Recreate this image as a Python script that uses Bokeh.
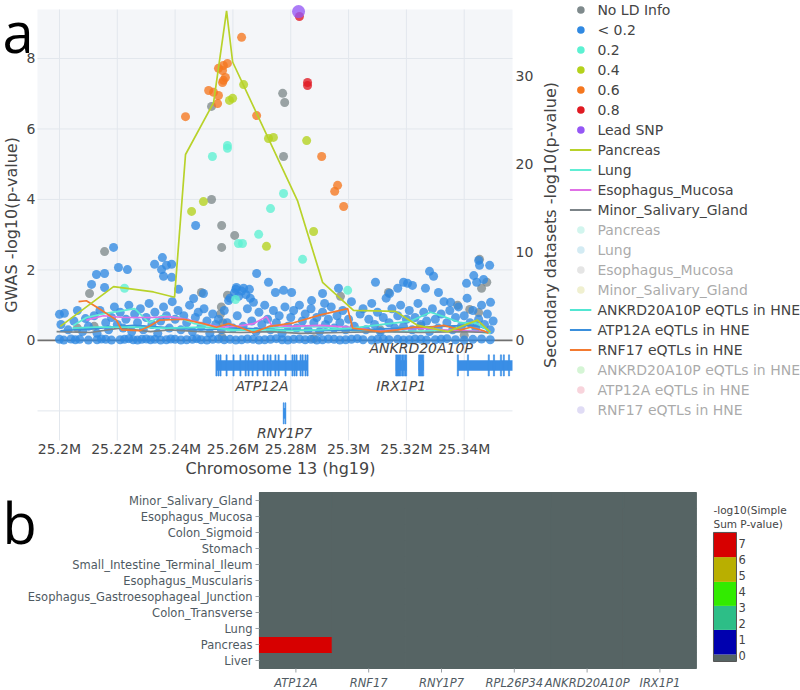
import math
from bokeh.plotting import figure
from bokeh.models import (ColumnDataSource, Range1d, Legend, LegendItem, BoxAnnotation, LinearColorMapper)
from bokeh.layouts import column
from bokeh.transform import transform
from bokeh.core.properties import value
from bokeh.embed import file_html
from bokeh.resources import INLINE

# ------------------------------------------------------------------ data
x_ticks = [25.20, 25.22, 25.24, 25.26, 25.28, 25.30, 25.32, 25.34]
x_tick_labels = ["25.2M", "25.22M", "25.24M", "25.26M", "25.28M", "25.3M", "25.32M", "25.34M"]
gwas_ticks = [0, 2, 4, 6, 8]
sec_ticks = [0, 10, 20, 30]

ld_labels = ["No LD Info", "< 0.2", "0.2", "0.4", "0.6", "0.8", "Lead SNP"]

nold_pos = [25.2526, 25.2772, 25.2779, 25.2775, 25.2526, 25.2561, 25.2606, 25.2561, 25.2156, 25.2104,
            25.2491, 25.2581, 25.2972, 25.3138, 25.3453, 25.3460, 25.3478, 25.3377, 25.3419, 25.3450,
            25.2560, 25.2557, 25.2565, 25.2562, 25.2062, 25.2120, 25.2880, 25.3110, 25.3250, 25.3400]
nold_val = [6.64, 7.01, 6.75, 5.22, 4.00, 3.26, 2.98, 2.64, 2.52, 1.33,
            1.36, 1.28, 1.25, 1.36, 2.30, 1.48, 1.65, 1.00, 0.88, 0.79,
            0.95, 0.75, 0.50, 0.10, 0.35, 0.40, 0.05, 0.30, 0.40, 0.15]

blue_hi_pos = [25.2471, 25.2187, 25.2356, 25.2329, 25.2370, 25.2388, 25.2353, 25.2360, 25.2388, 25.2204,
               25.2235, 25.2128, 25.2156, 25.2111, 25.2156, 25.2412, 25.2498, 25.2464, 25.2612, 25.2637,
               25.2657, 25.2682, 25.2723, 25.2585, 25.2671, 25.2747, 25.2775, 25.2803, 25.2872, 25.2910,
               25.2917, 25.2965, 25.3093, 25.3142, 25.3170, 25.3190, 25.3204, 25.3221, 25.3266, 25.3280,
               25.3294, 25.3311, 25.3353, 25.3408, 25.3433, 25.3443, 25.3450, 25.3453, 25.3488, 25.3467,
               25.3491, 25.2000, 25.2017, 25.2062, 25.2605, 25.2620, 25.2630, 25.2645, 25.2660, 25.2610]
blue_hi_val = [3.26, 2.64, 2.35, 2.16, 2.13, 2.16, 2.01, 1.82, 1.79, 2.07,
               2.01, 1.87, 1.90, 1.59, 1.50, 1.45, 1.33, 1.19, 1.50, 1.48,
               1.45, 1.90, 1.65, 1.13, 1.08, 1.36, 1.42, 1.36, 1.13, 1.33,
               1.05, 1.48, 1.65, 1.33, 1.48, 1.65, 1.62, 1.56, 1.48, 1.96,
               1.82, 1.36, 1.08, 1.62, 1.84, 1.65, 2.27, 2.13, 2.13, 1.73,
               1.08, 0.74, 0.77, 0.85, 1.35, 1.25, 1.40, 1.30, 1.20, 1.45]

blue_lo_pos = [25.2005, 25.2030, 25.2050, 25.2080, 25.2090, 25.2100, 25.2120, 25.2130, 25.2140, 25.2160,
               25.2170, 25.2180, 25.2190, 25.2200, 25.2210, 25.2220, 25.2230, 25.2240, 25.2250, 25.2260,
               25.2270, 25.2280, 25.2290, 25.2300, 25.2310, 25.2320, 25.2330, 25.2340, 25.2350, 25.2360,
               25.2370, 25.2380, 25.2390, 25.2400, 25.2410, 25.2420, 25.2430, 25.2440, 25.2450, 25.2460,
               25.2470, 25.2480, 25.2490, 25.2500, 25.2510, 25.2520, 25.2530, 25.2540, 25.2550, 25.2560,
               25.2570, 25.2580, 25.2590, 25.2600, 25.2615, 25.2635, 25.2650, 25.2665, 25.2680, 25.2690,
               25.2700, 25.2710, 25.2720, 25.2730, 25.2740, 25.2750, 25.2760, 25.2770, 25.2780, 25.2790,
               25.2800, 25.2810, 25.2820, 25.2830, 25.2840, 25.2850, 25.2860, 25.2870, 25.2880, 25.2890,
               25.2900, 25.2910, 25.2920, 25.2930, 25.2940, 25.2950, 25.2960, 25.2970, 25.2980, 25.2990,
               25.3000, 25.3010, 25.3020, 25.3040, 25.3050, 25.3060, 25.3070, 25.3080, 25.3090, 25.3100,
               25.3110, 25.3120, 25.3130, 25.3140, 25.3150, 25.3160, 25.3170, 25.3180, 25.3190, 25.3200,
               25.3210, 25.3220, 25.3230, 25.3240, 25.3250, 25.3260, 25.3270, 25.3280, 25.3290, 25.3300,
               25.3310, 25.3320, 25.3330, 25.3340, 25.3350, 25.3360, 25.3370, 25.3380, 25.3390, 25.3400,
               25.3410, 25.3420, 25.3430, 25.3440, 25.3450, 25.3460, 25.3470, 25.3480, 25.3490, 25.3500]
blue_lo_val = [0.45, 0.30, 0.55, 0.25, 0.62, 0.40, 0.70, 0.20, 0.85, 0.50,
               0.30, 0.65, 0.95, 0.45, 0.80, 0.35, 0.60, 1.00, 0.25, 0.75,
               0.50, 0.90, 0.30, 0.65, 1.05, 0.45, 0.80, 0.20, 0.55, 0.95,
               0.70, 0.35, 1.10, 0.60, 0.85, 0.30, 0.70, 0.50, 1.00, 0.25,
               0.65, 0.80, 0.40, 0.90, 0.55, 0.20, 0.75, 0.45, 0.60, 0.30,
               0.85, 0.50, 1.20, 0.35, 0.70, 0.40, 0.90, 0.55, 0.25, 0.80,
               0.45, 1.00, 0.60, 0.30, 0.85, 0.50, 0.70, 0.20, 0.95, 0.40,
               0.65, 0.85, 0.35, 1.00, 0.55, 0.75, 0.30, 0.90, 0.50, 0.65,
               0.25, 0.80, 0.45, 0.60, 0.95, 0.35, 0.70, 0.50, 0.85, 0.30,
               0.60, 1.10, 0.40, 0.75, 0.90, 0.30, 0.60, 1.05, 0.45, 0.80,
               0.25, 0.65, 1.20, 0.50, 0.90, 0.35, 0.70, 1.00, 0.40, 0.60,
               0.85, 0.30, 0.65, 1.05, 0.45, 0.80, 0.55, 0.25, 0.90, 0.60,
               0.35, 0.75, 1.10, 0.50, 0.85, 0.30, 0.65, 0.95, 0.40, 0.70,
               1.20, 0.50, 0.85, 0.35, 0.60, 1.00, 0.45, 0.75, 0.30, 0.55]

blue_zero_pos = [25.2000, 25.2015, 25.2040, 25.2055, 25.2070, 25.2100, 25.2130, 25.2145, 25.2160, 25.2180,
                 25.2210, 25.2225, 25.2240, 25.2255, 25.2270, 25.2285, 25.2300, 25.2315, 25.2330, 25.2350,
                 25.2370, 25.2385, 25.2400, 25.2420, 25.2440, 25.2460, 25.2475, 25.2490, 25.2510, 25.2530,
                 25.2550, 25.2570, 25.2590, 25.2610, 25.2630, 25.2650, 25.2670, 25.2690, 25.2710, 25.2730,
                 25.2750, 25.2770, 25.2790, 25.2810, 25.2830, 25.2850, 25.2870, 25.2890, 25.2910, 25.2930,
                 25.2950, 25.2970, 25.2990, 25.3010, 25.3030, 25.3050, 25.3080, 25.3100, 25.3120, 25.3140,
                 25.3170, 25.3190, 25.3210, 25.3230, 25.3250, 25.3270, 25.3300, 25.3320, 25.3340, 25.3370,
                 25.3400, 25.3430, 25.3460, 25.3490]
blue_zero_val = [0.03, 0.01, 0.04, 0.02, 0.03, 0.01, 0.02, 0.04, 0.03, 0.01,
                 0.02, 0.03, 0.05, 0.02, 0.01, 0.03, 0.04, 0.02, 0.03, 0.01,
                 0.02, 0.04, 0.03, 0.01, 0.02, 0.03, 0.05, 0.02, 0.01, 0.03,
                 0.04, 0.02, 0.03, 0.01, 0.02, 0.04, 0.03, 0.01, 0.02, 0.03,
                 0.05, 0.02, 0.01, 0.03, 0.04, 0.02, 0.03, 0.01, 0.02, 0.04,
                 0.03, 0.01, 0.02, 0.03, 0.05, 0.02, 0.01, 0.03, 0.04, 0.02,
                 0.03, 0.01, 0.02, 0.04, 0.03, 0.01, 0.02, 0.03, 0.05, 0.02,
                 0.01, 0.03, 0.04, 0.02]

ld02_pos = [25.2581, 25.2581, 25.2529, 25.2689, 25.2775, 25.2730, 25.2619, 25.2633, 25.2841, 25.2225,
            25.2609, 25.2997]
ld02_val = [5.53, 5.45, 5.22, 3.01, 4.17, 3.74, 2.75, 2.75, 2.30, 1.48, 1.16, 1.42]

ld04_pos = [25.2588, 25.2599, 25.2637, 25.2723, 25.2740, 25.2855, 25.2457, 25.2498, 25.2879, 25.2716]
ld04_val = [6.81, 6.87, 7.26, 5.73, 5.76, 5.67, 3.66, 3.94, 3.09, 2.67]

ld06_pos = [25.2630, 25.2550, 25.2567, 25.2581, 25.2564, 25.2567, 25.2574, 25.2564, 25.2516, 25.2533,
            25.2550, 25.2547, 25.2436, 25.2682, 25.2907, 25.2962, 25.2952, 25.2983]
ld06_val = [8.60, 7.72, 7.80, 7.86, 7.66, 7.38, 7.46, 7.32, 7.09, 7.04,
            6.95, 6.72, 6.35, 6.38, 5.22, 4.40, 4.23, 3.80]

ld08_pos = [25.2830, 25.2858, 25.2858]
ld08_val = [9.19, 7.32, 7.23]

lead_pos = [25.2827]
lead_val = [9.33]

pancreas_pos = [25.2003, 25.2187, 25.2325, 25.2398, 25.2436, 25.2533, 25.2578, 25.2599, 25.2824, 25.2910,
                25.3017, 25.3163, 25.3239, 25.3343, 25.3446, 25.3491]
pancreas_val = [1.6, 6.1, 5.5, 4.9, 21.1, 27.0, 37.4, 31.6, 15.8, 6.6, 3.4, 3.3, 1.7, 1.0, 2.3, 0.9]

lung_pos = [25.2048, 25.2093, 25.2163, 25.2204, 25.2260, 25.2311, 25.2353, 25.2412, 25.2467, 25.2533,
            25.2588, 25.2661, 25.2730, 25.2834, 25.2938, 25.3014, 25.3180, 25.3318, 25.3422, 25.3491]
lung_val = [1.7, 2.6, 3.1, 3.3, 3.6, 2.0, 2.8, 2.6, 1.9, 1.6, 1.1, 1.2, 1.4, 1.6, 1.5, 1.1, 1.0, 1.1, 1.1, 0.8]

esoph_pos = [25.2093, 25.2152, 25.2221, 25.2266, 25.2325, 25.2381, 25.2439, 25.2498, 25.2554, 25.2612,
             25.2671, 25.2716, 25.2734, 25.2799, 25.2903, 25.2997, 25.3111, 25.3249, 25.3377, 25.3467]
esoph_val = [2.3, 2.8, 2.6, 2.6, 2.6, 2.7, 2.4, 1.9, 1.5, 1.6, 1.9, 2.7, 1.7, 1.6, 1.7, 1.5, 1.1, 1.4, 1.1, 1.0]

msg_pos = [25.1990, 25.2107, 25.2208, 25.2315, 25.2381, 25.2488, 25.2626, 25.2730, 25.2834, 25.2972,
           25.3111, 25.3249, 25.3388, 25.3481]
msg_val = [1.0, 0.9, 1.4, 1.0, 1.2, 1.0, 0.9, 1.0, 0.8, 0.9, 1.0, 0.9, 1.0, 0.9]

ankrd_pos = [25.2045, 25.2125, 25.2246, 25.2370, 25.2498, 25.2612, 25.2730, 25.2799, 25.2903, 25.3014,
             25.3111, 25.3215, 25.3284, 25.3329, 25.3388, 25.3439, 25.3484]
ankrd_val = [1.4, 1.5, 1.5, 1.4, 1.5, 1.2, 1.2, 1.1, 1.2, 1.4, 1.8, 2.2, 3.2, 2.7, 2.0, 2.0, 1.1]

atp_pos = [25.2003, 25.2142, 25.2256, 25.2349, 25.2488, 25.2626, 25.2765, 25.2903, 25.3042, 25.3180,
           25.3318, 25.3422, 25.3467]
atp_val = [1.1, 1.4, 1.7, 1.5, 1.2, 1.4, 1.2, 1.1, 1.2, 1.4, 1.6, 1.7, 1.5]

rnf_pos = [25.2066, 25.2093, 25.2138, 25.2197, 25.2215, 25.2277, 25.2311, 25.2346, 25.2429, 25.2498,
           25.2543, 25.2585, 25.2623, 25.2671, 25.2727, 25.2810, 25.2903, 25.2997, 25.3014, 25.3111,
           25.3170, 25.3225, 25.3284, 25.3329, 25.3388, 25.3422, 25.3467, 25.3484]
rnf_val = [4.4, 4.5, 3.6, 2.3, 1.2, 1.1, 1.6, 2.3, 2.4, 1.9, 1.5, 1.9, 1.5, 0.9, 1.6, 2.0, 2.9, 3.6,
           1.4, 1.0, 1.2, 1.5, 1.5, 1.7, 1.2, 1.5, 1.1, 0.8]

sec_names = ["Pancreas", "Lung", "Esophagus_Mucosa", "Minor_Salivary_Gland"]
eqtl_names = ["ANKRD20A10P eQTLs in HNE", "ATP12A eQTLs in HNE", "RNF17 eQTLs in HNE"]

gene_names = ["ATP12A", "RNY1P7", "IRX1P1", "ANKRD20A10P", "RNF17"]
gene_start = [25.2543, 25.2774, 25.3163, 25.3242, 25.3377]
gene_end = [25.2858, 25.2783, 25.3201, 25.3260, 25.4541]
gene_row = [0, 1, 0, 0, 0]
gene_label_above = [False, False, False, True, False]
exon_gene = ([0] * 23) + [1, 1] + [2, 2, 2] + [3] + [4] * 8
exon_start = [25.2541, 25.2548, 25.2555, 25.2576, 25.2600, 25.2624, 25.2642, 25.2652, 25.2666, 25.2683,
              25.2704, 25.2718, 25.2728, 25.2745, 25.2756, 25.2780, 25.2804, 25.2811, 25.2818, 25.2832,
              25.2839, 25.2849, 25.2856,
              25.2774, 25.2780,
              25.3163, 25.3183, 25.3193,
              25.3242,
              25.3376, 25.3411, 25.3483, 25.3501, 25.3525, 25.3535, 25.3553, 25.3574]
exon_end = [25.2545, 25.2552, 25.2559, 25.2580, 25.2604, 25.2628, 25.2646, 25.2656, 25.2670, 25.2687,
            25.2708, 25.2722, 25.2732, 25.2749, 25.2760, 25.2784, 25.2808, 25.2815, 25.2822, 25.2836,
            25.2843, 25.2853, 25.2860,
            25.2777, 25.2783,
            25.3181, 25.3191, 25.3201,
            25.3260,
            25.3380, 25.3415, 25.3487, 25.3505, 25.3529, 25.3539, 25.3557, 25.3578]

tissues = ["Liver", "Pancreas", "Lung", "Colon_Transverse", "Esophagus_Gastroesophageal_Junction",
           "Esophagus_Muscularis", "Small_Intestine_Terminal_Ileum", "Stomach", "Colon_Sigmoid",
           "Esophagus_Mucosa", "Minor_Salivary_Gland"]
hm_genes = ["ATP12A", "RNF17", "RNY1P7", "RPL26P34", "ANKRD20A10P", "IRX1P1"]
simple_sum = [
    [0, 0, 0, 0, 0, 0],
    [7.6, 0, 0, 0, 0, 0],
    [0, 0, 0, 0, 0, 0],
    [0, 0, 0, 0, 0, 0],
    [0, 0, 0, 0, 0, 0],
    [0, 0, 0, 0, 0, 0],
    [0, 0, 0, 0, 0, 0],
    [0, 0, 0, 0, 0, 0],
    [0, 0, 0, 0, 0, 0],
    [0, 0, 0, 0, 0, 0],
    [0, 0, 0, 0, 0, 0],
]
cb_edges = [-0.375, 0.0625, 1.6, 3.1, 4.6, 6.15, 7.69]
cb_colors = ["#566464", "#0000af", "#2dbe87", "#32eb00", "#b9af00", "#d70000"]
cb_ticks = [0, 1, 2, 3, 4, 5, 6, 7]

# ------------------------------------------------------------------ style / layout constants
FONT = "DejaVu Sans"
TXT = "#444444"
PLOT_BG = "#f4f6f9"
GRID = "#e2e7ed"
ld_colors = ["#7f8a8c", "#3089e2", "#5cf1d2", "#b4d21c", "#f5771f", "#e01a22", "#9557f5"]
sec_colors = ["#b8d22a", "#60eed4", "#e070e6", "#7c8488"]
sec_faded = ["#9be9d9", "#9dd2e4", "#c5c5c5", "#dddd97"]
eqtl_colors = ["#52e6d2", "#3a8fdc", "#f37a30"]
eqtl_faded = ["#a2e9a2", "#efa1b1", "#bab1e9"]
GENE_COLOR = "#3a8ee6"
NAN = float("nan")

X_START, X_END = 25.1924, 25.3567
Y_BOTTOM, Y_TOP = -2.84, 9.39
SEC_RATIO = 4.0
ROW0, ROW_STEP = -0.71, 1.36

FIG_W, FIG_H = 800, 486
PLOT_L, PLOT_T, PLOT_W, PLOT_H = 37, 9, 475, 431     # plot area inside the canvas (px)
PX = (X_END - X_START) / PLOT_W                      # Mb per pixel
UPP = (Y_TOP - Y_BOTTOM) / PLOT_H                    # GWAS units per pixel
xr0 = X_START - PLOT_L * PX
xr1 = X_START + (FIG_W - PLOT_L) * PX
yr0 = Y_BOTTOM - (FIG_H - PLOT_T - PLOT_H) * UPP
yr1 = Y_TOP + PLOT_T * UPP

# ------------------------------------------------------------------ panel a
p = figure(width=FIG_W, height=FIG_H, x_range=Range1d(xr0, xr1), y_range=Range1d(yr0, yr1),
           x_axis_type=None, y_axis_type=None,
           output_backend="svg", toolbar_location=None,
           min_border_left=0, min_border_right=0, min_border_top=0, min_border_bottom=0,
           outline_line_color=None, background_fill_color="white", border_fill_color="white")
p.extra_y_ranges = {"sec": Range1d(yr0 * SEC_RATIO, yr1 * SEC_RATIO)}

p.add_layout(BoxAnnotation(left=X_START, right=X_END, bottom=0, top=Y_TOP, fill_color=PLOT_BG,
                           fill_alpha=1, line_color=None, level="image"))
p.segment(x0=x_ticks, y0=Y_BOTTOM, x1=x_ticks, y1=Y_TOP, line_color=GRID, line_width=1, level="underlay")
hgrid = [-2, 2, 4, 6, 8]
p.segment(x0=X_START, y0=hgrid, x1=X_END, y1=hgrid, line_color=GRID, line_width=1, level="underlay")
p.segment(x0=[X_START], y0=[0], x1=[X_END], y1=[0], line_color="#707070", line_width=1.6, level="underlay")

# axes text
p.text(x=X_START, y=gwas_ticks, text=[str(t) for t in gwas_ticks], x_offset=-2,
       text_font=value(FONT), text_font_size="14px", text_color=TXT, text_align="right",
       text_baseline="middle")
p.text(x=X_END, y=sec_ticks, text=[str(t) for t in sec_ticks], x_offset=3, y_range_name="sec",
       text_font=value(FONT), text_font_size="14px", text_color=TXT, text_align="left",
       text_baseline="middle")
p.text(x=x_ticks, y=Y_BOTTOM, text=x_tick_labels, y_offset=8,
       text_font=value(FONT), text_font_size="14px", text_color=TXT, text_align="center",
       text_baseline="middle")
p.text(x=[X_START + 243 * PX], y=[Y_BOTTOM], text=["Chromosome 13 (hg19)"], y_offset=28,
       text_font=value(FONT), text_font_size="16px", text_color=TXT, text_align="center",
       text_baseline="middle")
p.text(x=[X_START - 26 * PX], y=[(Y_TOP + Y_BOTTOM) / 2], text=["GWAS -log10(p-value)"], angle=math.pi / 2,
       text_font=value(FONT), text_font_size="16px", text_color=TXT, text_align="center",
       text_baseline="middle")
p.text(x=[X_END + 38 * PX], y=[(Y_TOP + Y_BOTTOM) / 2], text=["Secondary datasets -log10(p-value)"],
       angle=math.pi / 2, text_font=value(FONT), text_font_size="16px", text_color=TXT,
       text_align="center", text_baseline="middle")
p.text(x=[xr0], y=[Y_TOP - 21 * UPP], text=["a"], x_offset=2, text_font=value("Open Sans"),
       text_font_size="56px", text_color="black", text_align="left", text_baseline="middle")

PT = 9
PA = 0.78
scatter_sets = [
    (nold_pos, nold_val, ld_colors[0], PT),
    (blue_lo_pos, blue_lo_val, ld_colors[1], PT),
    (blue_zero_pos, blue_zero_val, ld_colors[1], PT),
    (blue_hi_pos, blue_hi_val, ld_colors[1], PT),
    (ld02_pos, ld02_val, ld_colors[2], PT),
    (ld04_pos, ld04_val, ld_colors[3], PT),
    (ld06_pos, ld06_val, ld_colors[4], PT),
    (ld08_pos, ld08_val, ld_colors[5], PT),
    (lead_pos, lead_val, ld_colors[6], 13),
]
for xs, ys, c, s in scatter_sets:
    p.scatter(x=xs, y=ys, size=s, fill_color=c, fill_alpha=PA, line_color=None)

line_sets = [
    (lung_pos, lung_val, sec_colors[1]),
    (esoph_pos, esoph_val, sec_colors[2]),
    (msg_pos, msg_val, sec_colors[3]),
    (atp_pos, atp_val, eqtl_colors[1]),
    (ankrd_pos, ankrd_val, eqtl_colors[0]),
    (rnf_pos, rnf_val, eqtl_colors[2]),
    (pancreas_pos, pancreas_val, sec_colors[0]),
]
for xs, ys, c in line_sets:
    p.line(x=xs, y=ys, line_color=c, line_width=1.7, y_range_name="sec")

# gene track (clipped to the plotted region)
gy = [ROW0 - ROW_STEP * r for r in gene_row]
gsrc = ColumnDataSource(dict(left=gene_start, right=[min(e, X_END) for e in gene_end],
                             bottom=[y - 0.15 for y in gy], top=[y + 0.15 for y in gy]))
p.quad(left="left", right="right", bottom="bottom", top="top", source=gsrc,
       fill_color=GENE_COLOR, line_color=None)
ex_keep = [k for k in range(len(exon_start)) if exon_start[k] < X_END]
ey = [gy[exon_gene[k]] for k in ex_keep]
esrc = ColumnDataSource(dict(left=[exon_start[k] for k in ex_keep],
                             right=[min(exon_end[k], X_END) for k in ex_keep],
                             bottom=[y - 0.30 for y in ey], top=[y + 0.30 for y in ey]))
p.quad(left="left", right="right", bottom="bottom", top="top", source=esrc,
       fill_color=GENE_COLOR, line_color=GENE_COLOR, line_width=0.6)
lab_x, lab_y, lab_t = [], [], []
for name, s, e, y, above in zip(gene_names, gene_start, gene_end, gy, gene_label_above):
    mid = (s + e) / 2
    if X_START <= mid <= X_END:
        lab_x.append(mid)
        lab_y.append(y + 0.49 if above else y - 0.57)
        lab_t.append(name)
p.text(x=lab_x, y=lab_y, text=lab_t, text_font=value(FONT), text_font_style="italic",
       text_font_size="14px", text_color=TXT, text_align="center", text_baseline="middle")

# legend (proxy renderers with a single undrawn point)
items = []
for lab, c in zip(ld_labels, ld_colors):
    r = p.scatter(x=[NAN], y=[NAN], size=12 if lab == "Lead SNP" else 8, fill_color=c, line_color=None)
    items.append(LegendItem(label=lab, renderers=[r]))
for lab, c in zip(sec_names, sec_colors):
    r = p.line(x=[NAN, NAN], y=[NAN, NAN], line_color=c, line_width=2)
    items.append(LegendItem(label=lab, renderers=[r]))
for lab, c in zip(sec_names, sec_faded):
    r = p.scatter(x=[NAN], y=[NAN], size=8, fill_color=c, line_color=None, visible=False)
    items.append(LegendItem(label=lab, renderers=[r]))
for lab, c in zip(eqtl_names, eqtl_colors):
    r = p.line(x=[NAN, NAN], y=[NAN, NAN], line_color=c, line_width=2)
    items.append(LegendItem(label=lab, renderers=[r]))
for lab, c in zip(eqtl_names, eqtl_faded):
    r = p.scatter(x=[NAN], y=[NAN], size=8, fill_color=c, line_color=None, visible=False)
    items.append(LegendItem(label=lab, renderers=[r]))

legend = Legend(items=items, location="top_right", orientation="vertical",
                border_line_color=None, background_fill_alpha=0,
                label_text_font=FONT, label_text_font_size="14px", label_text_color=TXT,
                glyph_width=22, glyph_height=19, label_height=19, label_standoff=6,
                spacing=1, padding=0, margin=0, click_policy="hide",
                inactive_fill_color="white", inactive_fill_alpha=0.55)
p.add_layout(legend)

# ------------------------------------------------------------------ panel b
HM_W, HM_H = 800, 203
CELL_W, CELL_H = 72.8, 16.0
HM_L, HM_T = 259, 6
N_ROWS = len(tissues)
hx0 = -HM_L / CELL_W
hx1 = (HM_W - HM_L) / CELL_W
hy1 = (HM_T + N_ROWS * CELL_H) / CELL_H
hy0 = -(HM_H - HM_T - N_ROWS * CELL_H) / CELL_H
CB_SHIFT = 13 / CELL_H       # colour-bar zero sits 13 px above the heatmap bottom
q = figure(width=HM_W, height=HM_H, x_range=Range1d(hx0, hx1), y_range=Range1d(hy0, hy1),
           x_axis_type=None, y_axis_type=None,
           output_backend="svg", toolbar_location=None,
           min_border_left=0, min_border_right=0, min_border_top=0, min_border_bottom=0,
           outline_line_color=None, background_fill_color="white", border_fill_color="white")
q.extra_y_ranges = {"cb": Range1d(hy0 - CB_SHIFT, hy1 - CB_SHIFT)}

step = 0.0125
n_steps = int(round((cb_edges[-1] - cb_edges[0]) / step))
palette = []
for k in range(n_steps):
    v = cb_edges[0] + (k + 0.5) * step
    idx = 0
    for b in range(len(cb_colors)):
        if v >= cb_edges[b]:
            idx = b
    palette.append(cb_colors[idx])
mapper = LinearColorMapper(palette=palette, low=cb_edges[0], high=cb_edges[-1])

hx, hy, hv = [], [], []
for j, t in enumerate(tissues):
    for i, g in enumerate(hm_genes):
        hx.append(i + 0.5)
        hy.append(j + 0.5)
        hv.append(simple_sum[j][i])
hsrc = ColumnDataSource(dict(x=hx, y=hy, v=hv))
q.rect(x="x", y="y", width=1, height=1, source=hsrc, fill_color=transform("v", mapper),
       line_color=transform("v", mapper), line_width=1.2)

# axis ticks and labels
tick_len_x = 4 / CELL_W
tick_len_y = 4 / CELL_H
row_c = [j + 0.5 for j in range(N_ROWS)]
col_c = [i + 0.5 for i in range(len(hm_genes))]
q.segment(x0=-tick_len_x, y0=row_c, x1=0, y1=row_c, line_color="#9aa0a4", line_width=1)
q.segment(x0=col_c, y0=-tick_len_y, x1=col_c, y1=0, line_color="#9aa0a4", line_width=1)
q.text(x=0, y=row_c, text=tissues, x_offset=-7, text_font=value(FONT), text_font_size="11.5px",
       text_color="#4f5a62", text_align="right", text_baseline="middle")
q.text(x=col_c, y=0, text=hm_genes, y_offset=14, text_font=value(FONT), text_font_size="11.5px",
       text_font_style="italic", text_color="#4f5a62", text_align="center", text_baseline="middle")

# colour bar
cb_mid = [(a + b) / 2 for a, b in zip(cb_edges[:-1], cb_edges[1:])]
cbsrc = ColumnDataSource(dict(bottom=cb_edges[:-1], top=cb_edges[1:], v=cb_mid))
CB_L, CB_R = 6.236, 6.552
q.quad(left=CB_L, right=CB_R, bottom="bottom", top="top", source=cbsrc, y_range_name="cb",
       fill_color=transform("v", mapper), line_color=None)
q.quad(left=CB_L, right=CB_R, bottom=cb_edges[0], top=cb_edges[-1], y_range_name="cb",
       fill_color=None, line_color="#555555", line_width=1)
q.text(x=6.58, y=cb_ticks, text=[str(t) for t in cb_ticks], y_range_name="cb",
       text_font=value(FONT), text_font_size="11.5px", text_color=TXT, text_baseline="middle")
q.text(x=CB_L, y=[9.1, 8.2], text=["-log10(Simple", "Sum P-value)"], y_range_name="cb",
       text_font=value(FONT), text_font_size="10.5px", text_color=TXT, text_baseline="middle")

q.text(x=[hx0], y=[hy1 - 35 / CELL_H], text=["b"], x_offset=2, text_font=value("Open Sans"),
       text_font_size="56px", text_color="black", text_align="left", text_baseline="middle")

layout = column(p, q)
open("out.html", "w").write(file_html(layout, INLINE))
